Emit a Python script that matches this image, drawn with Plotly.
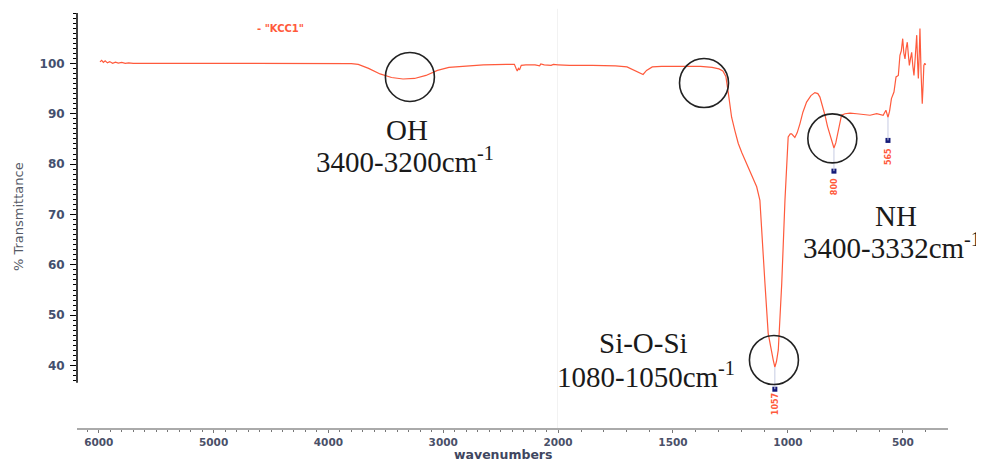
import plotly.graph_objects as go

# ---------------- data ----------------
wavenumber = [
    5990, 5975, 5960, 5945, 5925, 5905, 5880, 5855, 5830, 5800, 5770, 5740, 5700, 5600,
    5400, 5000, 4500, 4000, 3800, 3740, 3650, 3550, 3450, 3350, 3250, 3150, 3050, 2950,
    2800, 2650, 2450, 2380, 2365, 2355, 2345, 2335, 2320, 2280, 2200, 2160, 2150, 2120,
    2060, 2040, 2000,
    1950, 1850, 1750, 1700, 1670, 1640, 1630, 1615, 1590, 1550, 1450, 1380, 1330, 1300,
    1283, 1270, 1259, 1245, 1230, 1216, 1200, 1180, 1160, 1136, 1122, 1114, 1100, 1086,
    1072, 1064, 1057, 1050, 1042, 1027, 1013, 1005, 999, 990, 984, 970, 960, 948, 935,
    919, 900, 883, 870, 861, 850, 839, 828, 817, 808, 800, 792, 781, 767, 752, 730, 701,
    670, 643, 614, 586, 574, 570, 565, 558, 550, 539, 530, 520, 513, 507, 501, 496, 491,
    486, 481, 476, 472, 467, 462, 457, 452, 446, 440, 436, 433, 429, 426, 421, 416, 412,
    409, 405, 401,
]
transmittance = [
    100.3, 100.6, 100.2, 100.5, 100.1, 100.35, 100.0, 100.25, 100.05, 100.2, 100.0, 100.1, 100.0, 100.05,
    100.0, 100.0, 100.0, 100.0, 99.95, 99.8, 99.0, 97.9, 97.2, 96.9, 97.0, 97.6, 98.6, 99.2,
    99.5, 99.7, 99.8, 99.8, 99.0, 98.5, 99.0, 98.7, 99.6, 99.7, 99.7, 99.5, 99.9, 99.7,
    99.6, 99.8, 99.7,
    99.6, 99.6, 99.5, 99.3, 98.6, 97.9, 97.8, 98.6, 99.3, 99.4, 99.45, 99.4, 99.2, 98.9,
    98.5, 97.4, 94.0, 89.3, 86.5, 84.1, 82.2, 80.1, 78.0, 75.5, 72.8, 66.2, 56.3, 46.4,
    42.5, 41.1, 39.7, 40.8, 43.1, 56.3, 72.8, 80.0, 85.4, 86.0, 86.0, 85.3, 86.2, 88.0, 90.3,
    92.3, 93.6, 94.2, 94.0, 93.3, 91.6, 89.7, 87.5, 85.7, 84.0, 83.2, 84.2, 86.4, 89.7, 90.0, 90.1, 90.0,
    89.9, 89.7, 90.0, 89.7, 90.7, 90.0, 89.3, 90.5, 93.0, 94.3, 97.3, 97.6, 101.6, 102.5, 104.9, 102.0, 100.9,
    103.0, 104.2, 101.5, 99.6, 101.0, 102.2, 99.5, 97.6, 101.5, 105.6, 100.0, 97.0, 102.0, 106.9, 98.0, 92.0, 96.0,
    99.6, 100.0, 99.7,
]

series_name = '"KCC1"'
scale_break = 2000  # axis scale changes at 2000 cm-1

# labelled peaks: position, curve value, marker value, label value
peak_pos = [1057, 800, 565]
peak_curve = [39.7, 83.2, 89.3]
peak_marker = [35.3, 78.6, 84.7]
peak_label_y = [32.3, 75.6, 81.6]

# highlighted regions (circles): wavenumber, transmittance
circle_w = [3290, 1365, 807, 1061]
circle_t = [97.3, 96.1, 85.1, 41.1]

x_ticks_high = [6000, 5000, 4000, 3000, 2000]
x_ticks_low = [1500, 1000, 500]
y_ticks = [40, 50, 60, 70, 80, 90, 100, 110]
y_ticklabels = ["40", "50", "60", "70", "80", "90", "100", ""]

# ---------------- figure ----------------
# the page body has an 8px margin: the figure is sized to fill the rest of the window
OFF = 8
W, H = 984 - OFF, 461 - OFF
ML, MR, MT = 77 - OFF, 36, 13 - OFF
PLOT_BOTTOM = 428 - OFF
MB = H - PLOT_BOTTOM
PW, PH = W - ML - MR, H - MT - MB


def px(xp):
    """window pixel x -> paper fraction"""
    return (xp - OFF - ML) / PW


def py(yp):
    """window pixel y -> paper fraction"""
    return (PLOT_BOTTOM - (yp - OFF)) / PH


LINE_COLOR = "#ff5a3c"
Y_TICK_FONT = dict(family="DejaVu Sans", size=12, color="#44506e", weight="bold")
X_TICK_FONT = dict(family="DejaVu Sans", size=10.5, color="#4a5068", weight="bold")

hi_w = [w for w in wavenumber if w >= scale_break]
hi_t = [t for w, t in zip(wavenumber, transmittance) if w >= scale_break]
lo_w = [w for w in wavenumber if w <= scale_break]
lo_t = [t for w, t in zip(wavenumber, transmittance) if w <= scale_break]

fig = go.Figure()
fig.add_trace(go.Scatter(x=hi_w, y=hi_t, mode="lines", xaxis="x", yaxis="y",
                         line=dict(color=LINE_COLOR, width=1.2), showlegend=False,
                         name=series_name))
fig.add_trace(go.Scatter(x=lo_w, y=lo_t, mode="lines", xaxis="x2", yaxis="y",
                         line=dict(color=LINE_COLOR, width=1.2), showlegend=False,
                         name=series_name))
fig.add_trace(go.Scatter(x=peak_pos, y=peak_marker, mode="markers", xaxis="x2", yaxis="y",
                         marker=dict(symbol="square", size=5, color="#141a78"),
                         showlegend=False, cliponaxis=False))

split = px(558)
x_common = dict(showgrid=False, zeroline=False, showline=True, linecolor="#aaaaaa", linewidth=2,
                tickmode="array", ticks="outside", ticklen=3, tickcolor="#777777", tickwidth=1,
                tickfont=X_TICK_FONT, automargin=False, anchor="y",
                minor=dict(dtick=100, tick0=0, ticks="outside", ticklen=2, tickcolor="#777777"))
fig.update_layout(
    width=W, height=H,
    margin=dict(l=ML, r=MR, t=MT, b=MB, autoexpand=False),
    paper_bgcolor="white", plot_bgcolor="white",
    xaxis=dict(domain=[0, split], range=[6190, scale_break], tickvals=x_ticks_high, **x_common),
    xaxis2=dict(domain=[split, 1], range=[scale_break, 304], tickvals=x_ticks_low, **x_common),
    yaxis=dict(domain=[0, 1], range=[27.6, 110], anchor="x",
               showgrid=False, zeroline=False, showline=False, automargin=False,
               tickmode="array", tickvals=y_ticks, ticktext=y_ticklabels,
               ticks="outside", ticklen=6, tickcolor="black", tickwidth=1, tickfont=Y_TICK_FONT,
               ticklabelstandoff=3,
               minor=dict(tickmode="array", tickvals=list(range(37, 111)), ticks="outside",
                          ticklen=3, tickcolor="black")),
)

shapes = []
# y axis line (ends at the bottom of the value range)
shapes.append(dict(type="line", xref="paper", yref="y", x0=0, x1=0, y0=36.6, y1=110,
                   line=dict(color="black", width=1.5), layer="above"))
# scale break marker
shapes.append(dict(type="line", xref="x", yref="paper", x0=scale_break, x1=scale_break,
                   y0=0, y1=1.01, line=dict(color="#e4e4e4", width=1), layer="below"))
# peak drop lines
for w, c, m in zip(peak_pos, peak_curve, peak_marker):
    shapes.append(dict(type="line", xref="x2", yref="y", x0=w, x1=w, y0=c, y1=m,
                       line=dict(color="#c6cbe2", width=1)))
# circles
for w, t in zip(circle_w, circle_t):
    xr = "x" if w >= scale_break else "x2"
    shapes.append(dict(type="circle", xref=xr, yref="y", xsizemode="pixel", ysizemode="pixel",
                       xanchor=w, yanchor=t, x0=-24.5, x1=24.5, y0=-24.5, y1=24.5,
                       line=dict(color="#222222", width=1.6), layer="above"))
fig.update_layout(shapes=shapes)

ann = []
# peak labels
for w, ly in zip(peak_pos, peak_label_y):
    ann.append(dict(xref="x2", yref="y", x=w, y=ly, text=str(w), showarrow=False,
                    textangle=-90,
                    font=dict(family="DejaVu Sans", size=8, color="#ff5a3c", weight="bold"),
                    xanchor="center", yanchor="middle"))
# legend-like label
ann.append(dict(xref="paper", yref="paper", x=px(255), y=py(28), text='- ' + series_name,
                showarrow=False, xanchor="left", yanchor="middle",
                font=dict(family="DejaVu Sans", size=10, color="#ff5a3c", weight="bold")))
# axis titles
ann.append(dict(xref="paper", yref="paper", x=px(503), y=py(454), text="wavenumbers",
                showarrow=False, xanchor="center", yanchor="middle",
                font=dict(family="DejaVu Sans", size=12.5, color="#3f4660", weight="bold")))
ann.append(dict(xref="paper", yref="paper", x=px(19), y=py(217), text="% Transmittance",
                showarrow=False, xanchor="center", yanchor="middle", textangle=-90,
                font=dict(family="DejaVu Sans", size=13, color="#555a66")))

SERIF = dict(family="Liberation Serif", size=29, color="#1a1a1a")
notes = [
    ("OH", 407, 130),
    ("3400-3200cm<sup>-1</sup>", 405, 160),
    ("Si-O-Si", 643, 343),
    ("1080-1050cm<sup>-1</sup>", 646, 375),
    ("NH", 896, 216),
    ("3400-3332cm<sup>-1</sup>", 892, 246),
]
for text, xp, yp in notes:
    ann.append(dict(xref="paper", yref="paper", x=px(xp), y=py(yp), text=text,
                    showarrow=False, xanchor="center", yanchor="middle", font=SERIF))
fig.update_layout(annotations=ann)

fig.write_html("out.html")
